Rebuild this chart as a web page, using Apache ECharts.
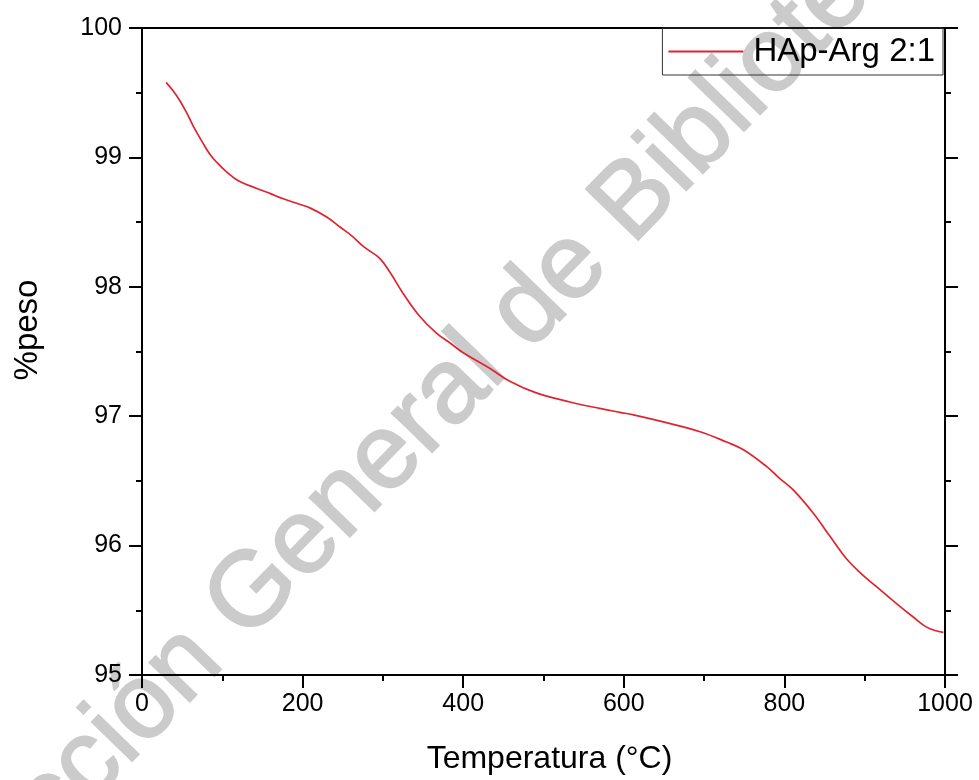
<!DOCTYPE html>
<html>
<head>
<meta charset="utf-8">
<script src="https://cdn.jsdelivr.net/npm/echarts@6/dist/echarts.min.js"></script>
<style>
  html, body { margin: 0; padding: 0; background: #fff; }
  #chart { width: 979px; height: 780px; }
</style>
</head>
<body>
<div id="chart"></div>
<script>
// Thermogravimetric curve: temperature (°C) vs remaining mass (%)
const temperature = [30, 38, 47, 56, 64, 75, 85, 95, 105, 120, 143, 160, 176, 195, 209, 230, 247, 262, 276, 296,
  309, 325, 346, 367, 385, 400, 433, 458, 491, 533, 570, 595, 612, 653, 695, 728, 749, 778, 794, 811,
  836, 857, 877, 898, 919, 940, 960, 977, 990, 998];
const massPercent = [99.58, 99.52, 99.44, 99.34, 99.24, 99.12, 99.02, 98.95, 98.89, 98.82, 98.76, 98.72, 98.68, 98.64, 98.61, 98.54, 98.46, 98.39, 98.31, 98.22,
  98.11, 97.95, 97.77, 97.64, 97.56, 97.49, 97.37, 97.27, 97.18, 97.11, 97.06, 97.03, 97.01, 96.95, 96.88, 96.80, 96.74, 96.61, 96.52, 96.43,
  96.25, 96.07, 95.90, 95.77, 95.66, 95.55, 95.45, 95.37, 95.34, 95.33];
const seriesName = 'HAp-Arg 2:1';
const xTicks = [0, 200, 400, 600, 800, 1000];
const yTicks = [95, 96, 97, 98, 99, 100];
const watermarkText = 'Dirección General de Bibliotecas';

const FONT = '"Liberation Sans", Arial, Helvetica, sans-serif';
const chart = echarts.init(document.getElementById('chart'), null, { renderer: 'canvas' });

const axisLine = { show: true, onZero: false, lineStyle: { color: '#000', width: 2 } };
const majorTick = { show: true, inside: false, length: 13, lineStyle: { color: '#000', width: 2 } };
const minorTick = { show: true, splitNumber: 2, length: 6, lineStyle: { color: '#000', width: 2 } };

const option = {
  backgroundColor: '#fff',
  animation: false,
  grid: { left: 142, right: 34, top: 28, bottom: 105, containLabel: false },
  legend: {
    data: [{ name: seriesName, icon: 'rect' }],
    right: 36, top: 28,
    z: 20,
    padding: [7, 8, 7, 6],
    backgroundColor: 'transparent',
    borderColor: '#333',
    borderWidth: 1,
    borderRadius: 0,
    itemWidth: 75,
    itemHeight: 2,
    textStyle: { fontFamily: FONT, fontSize: 33, color: '#000', padding: [0, 0, 0, 5] }
  },
  graphic: {
    elements: [{
      // background watermark, drawn beneath the axes and the curve
      type: 'text',
      z: 0,
      silent: true,
      x: -103, y: 961,
      rotation: 0.80,
      style: {
        text: watermarkText,
        font: '106px ' + FONT,
        fill: '#cbcbcb',
        stroke: '#cbcbcb',
        lineWidth: 2,
        align: 'left', verticalAlign: 'middle',
        textAlign: 'left', textVerticalAlign: 'middle'
      }
    }, {
      type: 'text',
      z: 20,
      silent: true,
      x: 28, y: 330,
      rotation: Math.PI / 2,
      style: {
        text: '%peso',
        font: '33px ' + FONT,
        fill: '#000',
        align: 'center', verticalAlign: 'middle',
        textAlign: 'center', textVerticalAlign: 'middle'
      }
    }]
  },
  xAxis: [{
    type: 'value', position: 'bottom', z: 10,
    min: xTicks[0], max: xTicks[xTicks.length - 1], interval: xTicks[1] - xTicks[0],
    name: 'Temperatura (°C)', nameLocation: 'middle', nameGap: 68,
    nameTextStyle: { fontFamily: FONT, fontSize: 32, color: '#000', padding: [0, 0, 0, 12] },
    axisLine: axisLine,
    axisTick: majorTick,
    minorTick: minorTick,
    axisLabel: { margin: 17, fontFamily: FONT, fontSize: 25, color: '#000', formatter: v => String(v) },
    splitLine: { show: false }
  }, {
    type: 'value', position: 'top', z: 10,
    min: xTicks[0], max: xTicks[xTicks.length - 1], interval: xTicks[1] - xTicks[0],
    axisLine: axisLine,
    axisTick: { show: false }, axisLabel: { show: false }, splitLine: { show: false }
  }],
  yAxis: [{
    type: 'value', position: 'left', z: 10,
    min: yTicks[0], max: yTicks[yTicks.length - 1], interval: 1,
    axisLine: axisLine,
    axisTick: majorTick,
    minorTick: minorTick,
    axisLabel: { margin: 20, fontFamily: FONT, fontSize: 25, color: '#000', formatter: v => String(v) },
    splitLine: { show: false }
  }, {
    type: 'value', position: 'right', z: 10,
    min: yTicks[0], max: yTicks[yTicks.length - 1], interval: 1,
    axisLine: axisLine,
    axisTick: majorTick,
    minorTick: minorTick,
    axisLabel: { show: false }, splitLine: { show: false }
  }],
  series: [{
    name: seriesName,
    type: 'line',
    xAxisIndex: 0, yAxisIndex: 0,
    data: temperature.map((t, i) => [t, massPercent[i]]),
    smooth: 0.4,
    symbol: 'none',
    lineStyle: { color: '#e0242f', width: 1.7 },
    itemStyle: { color: '#e0242f' },
    z: 12
  }]
};

chart.setOption(option);
</script>
</body>
</html>
